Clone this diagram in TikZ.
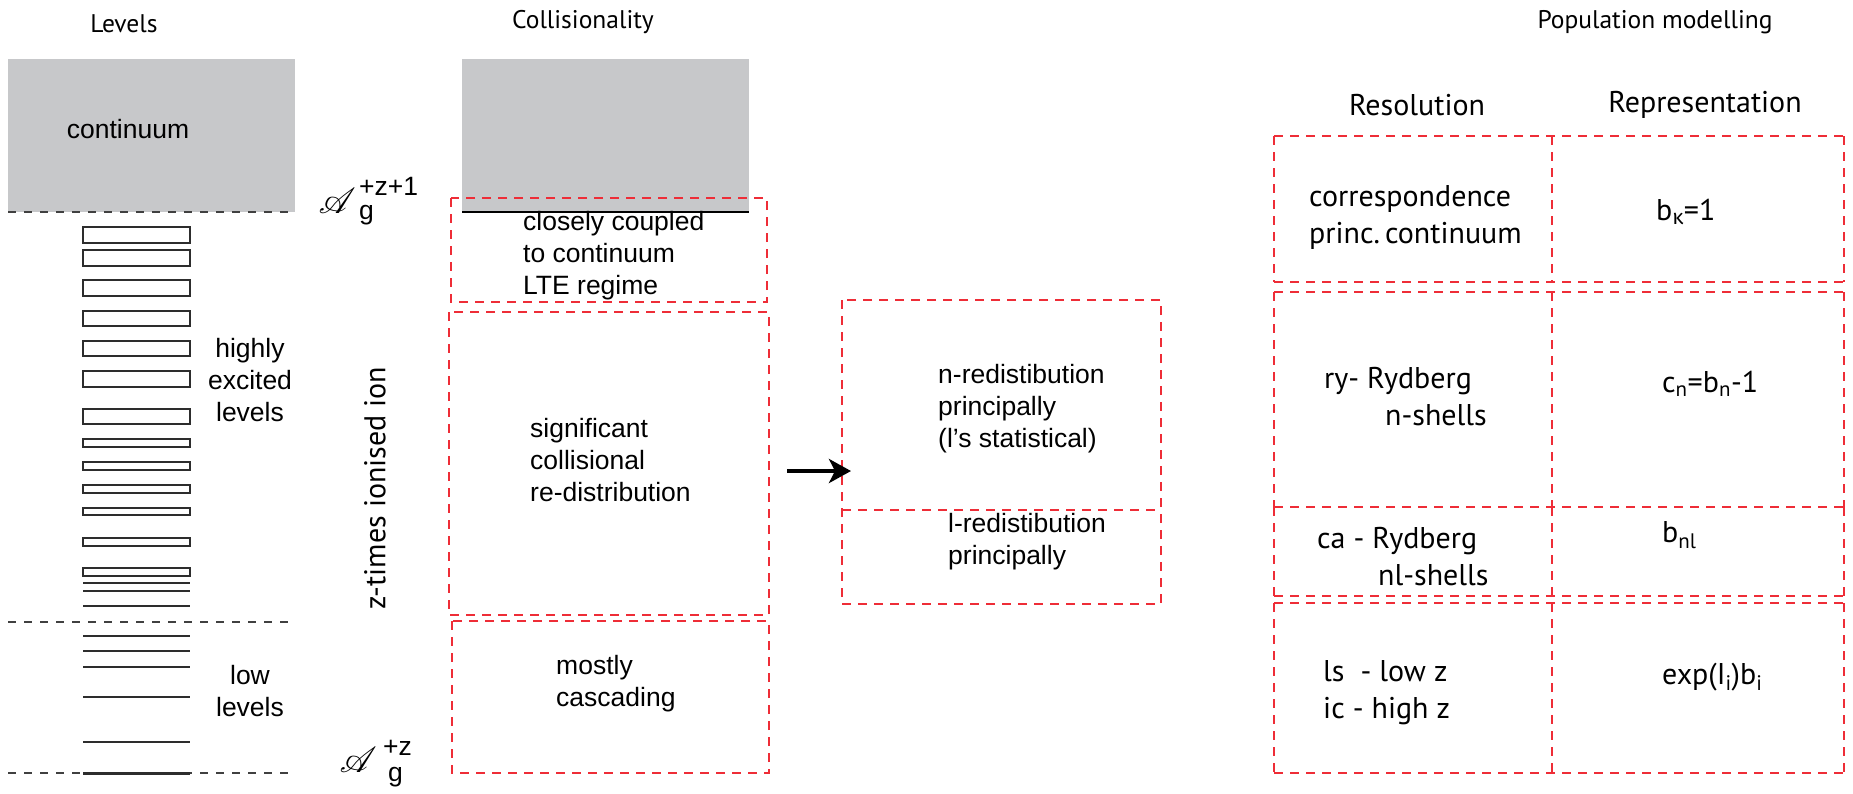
\documentclass[tikz,border=0pt]{standalone}
\usepackage{fontspec}
\setmainfont{Liberation Sans}
\newfontfamily\myr{PT Sans}
\newfontfamily\grk{Fira Sans}
\usepackage{mathrsfs}
\usetikzlibrary{arrows.meta}
\definecolor{redd}{RGB}{238,45,55}
\definecolor{grayfill}{RGB}{199,200,202}
\definecolor{lvlcol}{RGB}{45,45,45}
\tikzset{
  lvl/.style={draw=lvlcol, line width=1.8pt},
  sepline/.style={draw=black!75, line width=1.2pt, dash pattern=on 8pt off 8pt},
  redbox/.style={draw=redd, line width=2.4pt, dash pattern=on 9pt off 7pt},
  helv/.style={font=\fontsize{26.5}{32}\selectfont, inner sep=0pt, align=left},
  helvc/.style={font=\fontsize{26.5}{32}\selectfont, inner sep=0pt, align=center},
  title/.style={font=\myr\fontsize{25.5}{30}\selectfont, inner sep=0pt},
  myrt/.style={font=\myr\fontsize{30}{37}\selectfont, inner sep=0pt, align=left},
  scrA/.style={scale=3.6, inner sep=0pt, anchor=base west},
  arr/.style={line width=4pt, -{Stealth[length=22pt, width=24pt, inset=6pt]}}
}
\begin{document}
\begin{tikzpicture}[x=1pt,y=-1pt]
\useasboundingbox (0,0) rectangle (1853,793);

% titles
\node[title] (tLevels) at (124,24) {Levels};
\node[title] (tColl) at (583,22) {Collisionality};
\node[title] (tPop) at (1655,22) {Population modelling};

% left: levels column
\fill[grayfill] (8,59) rectangle (295,212);
\node[helvc] (cont) at (128,129) {continuum};
\draw[sepline] (8,212) -- (295,212);
\draw[sepline] (8,622) -- (295,622);
\draw[sepline] (8,773) -- (295,773);
\foreach \a/\b in {227/243,250/266,280/296,311/326,341/356,371/387,409/424,439/447,462/470,485/493,508/515,538/546,568/576}
  \draw[lvl] (83,\a) rectangle (190,\b);
\foreach \a in {583,591,606,636,651,667,697,742}
  \draw[lvl] (83,\a) -- (190,\a);
\draw[lvl, line width=3pt] (83,773) -- (190,773);
\node[helvc] (hel) at (250,380) {highly\\excited\\levels};
\node[helvc] (low) at (250,691) {low\\levels};

% ion labels
\node[scrA] (Ahi) at (318,213) {$\mathscr{A}$};
\node[helv, anchor=base west] (Ahisup) at (359,195) {+z+1};
\node[helv, anchor=base west] (Ahisub) at (359,219) {g};
\node[scrA] (Alo) at (339,772) {$\mathscr{A}$};
\node[helv, anchor=base west] (Alosup) at (383,755) {+z};
\node[helv, anchor=base west] (Alosub) at (388,781) {g};
\node[myrt, rotate=90] (zion) at (375,488) {z-times ionised ion};

% collisionality column
\fill[grayfill] (462,59) rectangle (749,212);
\draw[black, line width=2.5pt] (462,212) -- (749,212);
\draw[redbox] (451,198) rectangle (767,302);
\draw[redbox] (449,312) rectangle (769,615);
\draw[redbox] (452,621) rectangle (769,773);
\node[helv, anchor=west] (close) at (523,256) {closely coupled\\to continuum\\LTE regime};
\node[helv, anchor=west] (sig) at (530,460) {significant\\collisional\\re-distribution};
\node[helv, anchor=west] (most) at (556,684) {mostly\\cascading};

% redistribution boxes
\draw[redbox] (842,300) rectangle (1161,604);
\draw[redbox] (842,510) -- (1161,510);
\node[helv, anchor=west] (nred) at (938,409) {n-redistibution\\principally\\(l's statistical)};
\node[helv, anchor=west] (lred) at (948,542) {l-redistibution\\principally};
\coordinate (arrS) at (787,471);
\coordinate (arrE) at (851,471);
\draw[arr] (arrS) -- (arrE);

% population modelling table
\node[myrt] (hRes) at (1417,105) {Resolution};
\node[myrt] (hRep) at (1705,105) {Representation};
\foreach \y in {136,282,292,507,596,603,773}
  \draw[redbox] (1274,\y) -- (1844,\y);
\foreach \ya/\yb in {136/282,292/507,507/596,603/773}
  \foreach \x in {1274,1552,1844}
    \draw[redbox] (\x,\ya) -- (\x,\yb);

\node[myrt, anchor=west] (corr) at (1309,217) {correspondence\\princ.\,continuum};
\node[myrt, anchor=west] (bk) at (1656,212) {b\textsubscript{\grk κ}=1};
\node[myrt, anchor=west] (ry) at (1324,397) {ry- Rydberg\\\hspace*{61pt}n-shells};
\node[myrt, anchor=west] (cn) at (1662,384) {c\textsubscript{n}=b\textsubscript{n}-1};
\node[myrt, anchor=west] (ca) at (1317,557) {ca - Rydberg\\\hspace*{61pt}nl-shells};
\node[myrt, anchor=west] (bnl) at (1662,535) {b\textsubscript{nl}};
\node[myrt, anchor=west] (ls) at (1323,693) {ls\ \ - low z\\ic - high z};
\node[myrt, anchor=west] (ex) at (1662,677) {exp(I\textsubscript{i})b\textsubscript{i}};
\end{tikzpicture}
\end{document}
